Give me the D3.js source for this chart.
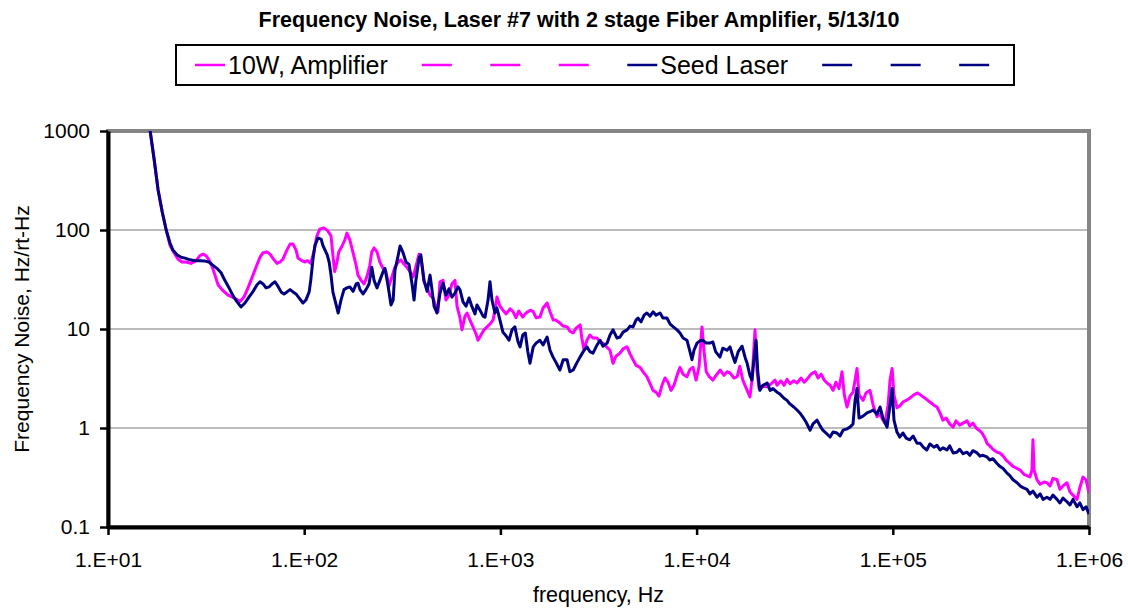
<!DOCTYPE html>
<html>
<head>
<meta charset="utf-8">
<script src="https://cdn.jsdelivr.net/npm/d3@7"></script>
<style>
  body { margin: 0; background: #fff; }
  svg { display: block; font-family: Arial, "Liberation Sans", sans-serif; }
</style>
</head>
<body>
<div id="chart"></div>
<script>
const title = "Frequency Noise, Laser #7 with 2 stage Fiber Amplifier, 5/13/10";
const xTitle = "frequency, Hz";
const yTitle = "Frequency Noise, Hz/rt-Hz";

const xTicks = [1e1, 1e2, 1e3, 1e4, 1e5, 1e6];
const xTickLabels = ["1.E+01", "1.E+02", "1.E+03", "1.E+04", "1.E+05", "1.E+06"];
const yTicks = [0.1, 1, 10, 100, 1000];
const yTickLabels = ["0.1", "1", "10", "100", "1000"];

// Excel legend also lists the blank extra series
const legendNames = ["10W, Amplifier", "", "", "", "Seed Laser", "", "", ""];
const legendColors = ["#ff00ff", "#ff00ff", "#ff00ff", "#ff00ff", "#000080", "#000080", "#000080", "#000080"];

// [frequency Hz, noise Hz/rt-Hz]
const amplifier = [
  [16,1150],[16.4,1000],[17.2,510],[18,254],[18.9,152],[19.8,100],[20.7,70],[21.7,59],[22.7,51],[23.8,47.5],[25,47.5],[26.5,46],[28.1,49],[29.4,55],[30.5,57],[31.6,55],[32.7,50],[33.9,43],[35.1,35],[36.4,28],[38.1,25],[40.9,22],[43.9,20.6],[47.1,19],[49.3,21],[51.7,26],[54.2,33],[56.8,42],[59.5,53],[61.7,59],[64.6,60],[66.9,57],[70.2,50],[72.7,46],[75.3,47.5],[78,51],[81.7,63],[84.7,72],[87.7,72],[90.8,63],[93,52],[97.4,49],
  [101,47.5],[104,49],[108,46],[112,60],[116,87],[120,102],[126,105],[132,98],[137,87],[140,56],[143,38],[147,47.5],[150,60],[156,69],[161,79],[165,93],[171,79],[177,60],[184,44],[188,35],[195,31],[202,28.5],[209,34],[216,44],[221,60],[227,66],[235,60],[243,47.5],[252,41],[261,38],[270,27],[280,33.5],[290,42],[301,47.5],[311,50],[323,45],[334,42],[346,38],[359,33.5],[371,43],[385,57],[393,53],[408,30],[423,26],[438,22],[453,20.6],[470,17],[481,15],[492,30],[510,31],[528,19.6],[547,22],[566,28.5],[587,31],[601,17],[622,13],[637,9.8],[660,13.5],[676,14.5],[700,12.3],[725,10.5],[751,8.9],[769,7.7],[796,8.7],[825,9.8],[855,10.5],[885,11.2],[917,12.3],[938,15.5],[960,21],[995,17],
  [1030,15.5],[1070,14.2],[1120,16],[1160,15],[1200,13],[1240,15.2],[1300,13.2],[1350,14.5],[1420,15.5],[1470,15],[1520,13],[1590,13.2],[1650,16.3],[1730,18.3],[1790,15],[1860,12.3],[1920,12.3],[2010,11.5],[2090,10.7],[2190,10.5],[2260,9.5],[2350,9.1],[2430,10.2],[2550,11],[2600,8.1],[2670,6.1],[2760,7.7],[2860,8.7],[2970,8.1],[3110,8.1],[3220,7.4],[3330,7.2],[3450,6.7],[3620,6.1],[3750,4.5],[3880,5.3],[4070,5.7],[4220,6.3],[4420,6.6],[4580,5.6],[4740,4.9],[4910,4.3],[5150,4.1],[5330,3.7],[5580,3.3],[5790,2.8],[6000,2.4],[6210,2.3],[6430,2.1],[6660,2.7],[6900,3.2],[7150,2.9],[7400,2.4],[7670,2.7],[7950,3.4],[8230,4.1],[8530,3.5],[8930,3.3],[9250,3.9],[9590,4.1],[9940,3.05],
  [10300,4.2],[10650,10.5],[10900,6.1],[11200,3.7],[11600,3.3],[12100,3.05],[12500,3.35],[13200,3.85],[13800,3.4],[14300,3.7],[14800,3.6],[15500,3.2],[16100,3.3],[16600,4.2],[17200,3.05],[18100,2.4],[18700,2.06],[19150,3.05],[19850,9.8],[20300,3.85],[20800,2.5],[21800,2.7],[22900,2.6],[24000,2.8],[25100,3.05],[25700,2.7],[26900,3],[27900,2.7],[28900,3.1],[29900,2.8],[31300,3],[32500,2.85],[34100,3.2],[35300,2.9],[36500,3.1],[38300,3.5],[40200,3.7],[41600,3.2],[43100,3.5],[44700,3.05],[46200,2.85],[47900,2.7],[49600,2.4],[51300,2.9],[53200,2.5],[55100,3.7],[56600,2.16],[58400,1.63],[60500,2.1],[62700,2.3],[65700,4],[67300,2.16],[70500,1.9],[73000,2.26],[76500,2.4],[79400,1.7],[83100,1.3],[86100,1.38],[89100,1.2],[91200,1.12],[94600,1.7],[96800,3.05],[99200,4],
  [101400,2.16],[105000,1.6],[108500,1.67],[112700,1.83],[117000,1.9],[122000,2],[128000,2.16],[134000,2.26],[141000,2.1],[148000,1.96],[154500,1.83],[162000,1.7],[168000,1.63],[174000,1.42],[180000,1.2],[187000,1.26],[195000,1.1],[203000,1.02],[210000,1.18],[219000,1.07],[228000,1.12],[239000,1.18],[247000,1.05],[256000,1.12],[266000,1],[275000,0.95],[285000,0.89],[295000,0.79],[302000,0.7],[312000,0.66],[324000,0.61],[339000,0.57],[351000,0.56],[365000,0.52],[378000,0.475],[395000,0.44],[410000,0.41],[430000,0.39],[446000,0.376],[466000,0.34],[483000,0.33],[500000,0.32],[512000,0.376],[518000,0.76],[525000,0.376],[543000,0.3],[564000,0.27],[590000,0.285],[611000,0.28],[633000,0.26],[655000,0.31],[687000,0.3],[711000,0.24],[737000,0.26],[772000,0.28],[800000,0.226],[829000,0.21],[869000,0.19],[898000,0.25],[932000,0.32],[966000,0.3],[1000000,0.22]
];

const seed = [
  [16,1150],[16.4,1000],[17.2,510],[18,254],[18.9,152],[19.8,100],[20.7,74],[21.4,63],[22.5,56],[23.6,53],[24.7,52],[26.2,50],[27.8,49],[29.4,49],[31.2,48.5],[32.7,47.5],[34.3,44],[35.9,41],[37.7,37],[39.4,31],[41.4,26],[43.4,21.6],[45.5,18.8],[47.6,16.7],[49.9,18.3],[52.3,21],[54.9,24],[57.5,28],[59.5,30],[61.7,28.5],[63.9,26],[66.2,26.6],[68.5,28.5],[71,30],[73.5,27],[76.2,23.7],[78.9,22.6],[81.7,23.7],[84.7,25],[87.7,23.7],[90.8,22.6],[94.1,20.6],[98.6,18.3],
  [102,19.6],[106,23.7],[108,31],[111,52],[113.5,70],[117.5,83],[122,81],[124.5,70],[127.5,63],[131,56],[134,47.5],[137,35],[140,23.7],[145.5,17.5],[149,14.5],[154,19.6],[159.5,25],[165,26],[171,26.6],[177.5,24],[184,28.5],[188,29],[192.5,25],[199.5,22.6],[206.5,25],[214,28.5],[221,42],[227,31],[235,26],[243,31],[252,37.6],[258,41],[267,28],[277,17.5],[284,19.6],[290,39],[301,55],[308,69],[319,59],[330,47.5],[342,45],[355,28],[363,19.6],[371,31],[385,52],[393,56],[408,31],[423,24],[438,35],[448,25],[459,17],[475,14.5],[492,23],[510,29],[528,22],[547,25.4],[566,21],[587,23],[608,26.6],[622,25],[645,18.8],[668,17],[692,20.6],[717,16.7],[742,14.2],[760,17.5],[787,15.5],[816,13.5],[835,13.2],[865,19.6],[885,30],[906,19.6],[938,14.5],[960,16.3],[995,12.3],
  [1030,9.3],[1070,8.5],[1106,7.7],[1146,9.8],[1185,10.5],[1230,7.4],[1260,6.6],[1300,8.7],[1340,9.1],[1380,5.9],[1415,4.5],[1470,6.6],[1520,7.2],[1590,7.7],[1650,6.9],[1730,8.3],[1790,6.1],[1855,5.2],[1920,4.6],[2010,3.85],[2090,4.9],[2185,4.9],[2260,3.7],[2350,3.85],[2460,4.6],[2545,5.2],[2670,6.1],[2760,6.6],[2860,5.9],[2965,5.7],[3110,6.9],[3220,7.7],[3330,6.7],[3500,7.2],[3620,8.7],[3750,9.8],[3930,8.1],[4070,8.3],[4220,9.3],[4420,9.8],[4580,10.7],[4740,10.5],[4910,12.3],[5030,12.9],[5210,11.8],[5400,13.8],[5580,14.5],[5790,13.5],[6000,14.9],[6210,13.8],[6510,14.5],[6740,12.9],[7060,12.9],[7330,11.2],[7610,10.5],[7950,9.8],[8230,9.1],[8530,8.1],[8930,7.7],[9250,5.9],[9470,4.9],[9700,6.1],
  [10050,7.2],[10400,7.6],[10780,7.7],[11160,7.2],[11700,7.2],[12100,7.4],[12500,5.9],[13150,5.2],[13600,6.4],[14300,6.1],[14800,6.6],[15300,5.3],[15700,4.6],[16300,5.9],[17050,6.7],[17700,5.1],[18100,4.5],[18700,3.4],[19150,3.05],[19600,4.9],[20100,7.7],[20500,3.7],[21000,2.4],[21800,2.7],[22900,2.85],[23700,2.4],[24500,2.5],[25700,2.3],[26600,2.2],[27900,2],[28900,1.9],[29900,1.75],[31300,1.63],[32500,1.52],[33600,1.42],[34800,1.29],[36100,1.15],[37900,0.95],[39200,1.1],[41100,1.2],[42600,1.05],[44000,0.95],[46200,0.87],[47900,0.81],[49600,0.91],[51900,0.89],[53800,0.83],[55800,0.95],[58400,0.98],[60500,1.02],[62700,1.1],[64200,1.9],[65700,2.5],[67300,1.26],[70500,1.32],[73900,1.42],[76500,1.46],[79400,1.52],[83100,1.38],[86100,1.63],[89100,1.26],[93500,1.02],[96800,1.7],[99200,2.5],
  [101400,1.2],[105000,0.91],[108500,0.81],[112700,0.89],[117000,0.79],[122000,0.76],[127000,0.83],[133000,0.7],[138000,0.7],[143000,0.64],[149000,0.6],[154500,0.69],[162000,0.64],[168000,0.67],[174000,0.6],[180000,0.63],[189000,0.6],[195000,0.66],[203000,0.56],[212000,0.57],[219000,0.61],[228000,0.55],[239000,0.57],[247000,0.53],[256000,0.59],[269000,0.56],[278000,0.52],[288000,0.53],[302000,0.51],[312000,0.475],[324000,0.49],[339000,0.44],[351000,0.41],[365000,0.39],[382000,0.35],[395000,0.33],[410000,0.3],[430000,0.28],[446000,0.26],[461000,0.25],[483000,0.24],[500000,0.216],[518000,0.23],[543000,0.2],[564000,0.216],[583000,0.19],[611000,0.2],[633000,0.19],[655000,0.21],[687000,0.19],[711000,0.175],[737000,0.196],[772000,0.18],[800000,0.167],[829000,0.19],[869000,0.16],[898000,0.175],[932000,0.15],[966000,0.16],[1000000,0.135]
];

const width = 1128, height = 608;
const margin = {top: 131, right: 39, bottom: 81, left: 108};

const svg = d3.select("#chart").append("svg")
    .attr("width", width)
    .attr("height", height);

const x = d3.scaleLog().domain([1e1, 1e6]).range([margin.left, width - margin.right]);
const y = d3.scaleLog().domain([0.1, 1000]).range([height - margin.bottom, margin.top]);

// title
svg.append("text")
    .attr("x", 579)
    .attr("y", 27)
    .attr("text-anchor", "middle")
    .attr("font-size", 21.5)
    .attr("font-weight", "bold")
    .text(title);

// legend box
const legend = svg.append("g");
legend.append("rect")
    .attr("x", 176).attr("y", 45)
    .attr("width", 838).attr("height", 40)
    .attr("fill", "#fff")
    .attr("stroke", "#000")
    .attr("stroke-width", 2);

let lx = 195;
legendNames.forEach((name, i) => {
  legend.append("line")
      .attr("x1", lx).attr("x2", lx + 30)
      .attr("y1", 65).attr("y2", 65)
      .attr("stroke", legendColors[i])
      .attr("stroke-width", 2.5);
  if (name) {
    const t = legend.append("text")
        .attr("x", lx + 33)
        .attr("y", 74)
        .attr("font-size", 25)
        .text(name);
    lx = lx + 33 + t.node().getComputedTextLength() + 34;
  } else {
    lx += 68.5;
  }
});

// gridlines
svg.append("g")
  .selectAll("line")
  .data(yTicks.filter(d => d > 0.1 && d < 1000))
  .enter().append("line")
    .attr("x1", x.range()[0]).attr("x2", x.range()[1])
    .attr("y1", d => y(d)).attr("y2", d => y(d))
    .attr("stroke", "#7a7a7a")
    .attr("stroke-width", 1.2);

// plot area border (grey, top and right)
svg.append("rect")
    .attr("x", x.range()[0]).attr("y", y.range()[1])
    .attr("width", x.range()[1] - x.range()[0])
    .attr("height", y.range()[0] - y.range()[1])
    .attr("fill", "none")
    .attr("stroke", "#858585")
    .attr("stroke-width", 4);

svg.append("clipPath").attr("id", "clip")
  .append("rect")
    .attr("x", x.range()[0]).attr("y", y.range()[1])
    .attr("width", x.range()[1] - x.range()[0])
    .attr("height", y.range()[0] - y.range()[1]);

const line = d3.line()
    .x(d => x(d[0]))
    .y(d => y(d[1]));

const series = [
  {data: amplifier, color: "#ff00ff"},
  {data: seed, color: "#000080"}
];

svg.append("g")
    .attr("clip-path", "url(#clip)")
  .selectAll("path")
  .data(series)
  .enter().append("path")
    .attr("d", d => line(d.data))
    .attr("fill", "none")
    .attr("stroke", d => d.color)
    .attr("stroke-width", 3)
    .attr("stroke-linejoin", "round");

// axes
const yAxis = svg.append("g")
    .attr("transform", `translate(${margin.left},0)`)
    .call(d3.axisLeft(y)
      .tickValues(yTicks)
      .tickFormat((d, i) => yTickLabels[i])
      .tickSize(8)
      .tickSizeOuter(0)
      .tickPadding(10));

const xAxis = svg.append("g")
    .attr("transform", `translate(0,${height - margin.bottom})`)
    .call(d3.axisBottom(x)
      .tickValues(xTicks)
      .tickFormat((d, i) => xTickLabels[i])
      .tickSize(8)
      .tickSizeOuter(0)
      .tickPadding(17));

[xAxis, yAxis].forEach(a => {
  a.attr("font-family", null).attr("font-size", 21);
  a.select(".domain").attr("stroke", "#000").attr("stroke-width", 4);
  a.selectAll(".tick line").attr("stroke", "#000").attr("stroke-width", 2.5);
  a.selectAll(".tick text").attr("fill", "#000");
});

// axis titles
svg.append("text")
    .attr("x", (x.range()[0] + x.range()[1]) / 2)
    .attr("y", 602)
    .attr("text-anchor", "middle")
    .attr("font-size", 21.5)
    .text(xTitle);

svg.append("text")
    .attr("transform", `translate(29,${(y.range()[0] + y.range()[1]) / 2}) rotate(-90)`)
    .attr("text-anchor", "middle")
    .attr("font-size", 21)
    .text(yTitle);
</script>
</body>
</html>
